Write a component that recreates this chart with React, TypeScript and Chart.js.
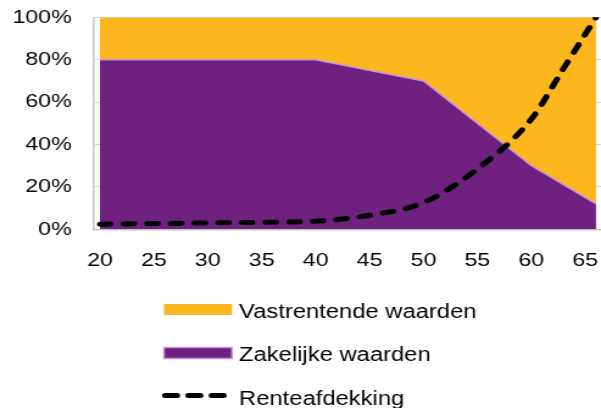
import React, { useEffect, useRef } from 'react';
import { Chart, registerables } from 'chart.js';

Chart.register(...registerables);

// ---- data ----
const areaAges = [20, 40, 50, 60, 66];
const zakelijkeWaarden = [80, 80, 70, 30, 12];
const vastrentendeWaarden = [20, 20, 30, 70, 88];
const renteAges = [20, 25, 30, 35, 40, 45, 50, 55, 60, 63, 66];
const renteafdekking = [2.4, 2.7, 3.0, 3.3, 3.8, 6.6, 12.6, 28.5, 52, 76, 100];
const xTickValues = [20, 25, 30, 35, 40, 45, 50, 55, 60, 65];
const yTickValues = [0, 20, 40, 60, 80, 100];
const legendLabels = ['Vastrentende waarden', 'Zakelijke waarden', 'Renteafdekking'];

// ---- styles ----
const ORANGE = '#FCB61E';
const PURPLE = '#6E217E';
const PURPLE_EDGE = '#C892DE';
const GRID = '#D9D9D9';
const AXIS = '#C6C6C6';
const FONT = "'Liberation Sans', Arial, sans-serif";

const INTERNAL_W = 493;
const CSS_W = 601;
const H = 408;

const legendPlugin = {
  id: 'verticalLegend',
  afterDraw(chart: any) {
    const ctx = chart.ctx as CanvasRenderingContext2D;
    ctx.save();
    const boxX = 134.5;
    const boxW = 55.8;
    const textX = 196.1;
    ctx.font = `19.5px ${FONT}`;
    ctx.textBaseline = 'alphabetic';
    ctx.textAlign = 'left';

    // row 1: orange box
    ctx.fillStyle = ORANGE;
    ctx.fillRect(boxX, 304, boxW, 11);
    ctx.fillStyle = '#000';
    ctx.fillText(legendLabels[0], textX, 317.7);

    // row 2: purple box
    ctx.fillStyle = PURPLE;
    ctx.fillRect(boxX, 347.5, boxW, 11);
    ctx.strokeStyle = PURPLE_EDGE;
    ctx.lineWidth = 1.5;
    ctx.strokeRect(boxX, 347.5, boxW, 11);
    ctx.fillStyle = '#000';
    ctx.fillText(legendLabels[1], textX, 361);

    // row 3: dashed line
    ctx.strokeStyle = '#000';
    ctx.lineWidth = 5;
    ctx.lineCap = 'round';
    ctx.setLineDash([9.8, 9.3]);
    ctx.beginPath();
    ctx.moveTo(135.4, 395.5);
    ctx.lineTo(184.5, 395.5);
    ctx.stroke();
    ctx.setLineDash([]);
    ctx.fillStyle = '#000';
    ctx.fillText(legendLabels[2], textX, 404.5);
    ctx.restore();
  },
};

export default function App() {
  const canvasRef = useRef<HTMLCanvasElement | null>(null);

  useEffect(() => {
    document.body.style.margin = '0';
    document.body.style.overflow = 'hidden';
    const canvas = canvasRef.current;
    if (!canvas) return;

    const chart = new Chart(canvas, {
      type: 'line',
      data: {
        datasets: [
          {
            label: legendLabels[1],
            data: areaAges.map((x, i) => ({ x, y: zakelijkeWaarden[i] })),
            stack: 'mix',
            order: 1,
            fill: 'origin',
            backgroundColor: PURPLE,
            borderColor: PURPLE_EDGE,
            borderWidth: 1.5,
            pointRadius: 0,
            tension: 0,
          },
          {
            label: legendLabels[0],
            data: areaAges.map((x, i) => ({ x, y: vastrentendeWaarden[i] })),
            stack: 'mix',
            order: 2,
            fill: '-1',
            backgroundColor: ORANGE,
            borderColor: ORANGE,
            borderWidth: 0,
            pointRadius: 0,
            tension: 0,
          },
          {
            label: legendLabels[2],
            data: renteAges.map((x, i) => ({ x, y: renteafdekking[i] })),
            stack: 'rente',
            order: 0,
            fill: false,
            borderColor: '#000',
            borderWidth: 5,
            borderDash: [8.7, 10.7],
            borderCapStyle: 'round',
            pointRadius: 0,
            cubicInterpolationMode: 'monotone',
          },
        ],
      },
      options: {
        animation: false,
        responsive: false,
        devicePixelRatio: 1,
        events: [],
        layout: { padding: { top: 17.3, right: 0, left: 0, bottom: 408 - 229.3 - 45 } },
        plugins: {
          legend: { display: false },
          tooltip: { enabled: false },
          title: { display: false },
        },
        scales: {
          x: {
            type: 'linear',
            min: 19.45,
            max: 66.46,
            grid: { display: false, drawTicks: false },
            border: { display: true, color: AXIS, width: 1.5 },
            afterBuildTicks: (axis: any) => {
              axis.ticks = xTickValues.map((v) => ({ value: v }));
            },
            afterFit: (axis: any) => {
              axis.height = 45;
              axis.paddingLeft = 0;
              axis.paddingRight = 0;
              axis.paddingTop = 0;
              axis.paddingBottom = 0;
            },
            ticks: {
              autoSkip: false,
              maxRotation: 0,
              padding: 20,
              color: '#000',
              font: { family: FONT, size: 19 },
            },
          },
          y: {
            stacked: true,
            min: 0,
            max: 100,
            grid: { color: GRID, lineWidth: 1, drawTicks: false },
            border: { display: true, color: AXIS, width: 1.5 },
            afterBuildTicks: (axis: any) => {
              axis.ticks = yTickValues.map((v) => ({ value: v }));
            },
            afterFit: (axis: any) => {
              axis.width = 77.1;
              axis.paddingLeft = 0;
              axis.paddingRight = 0;
              axis.paddingTop = 0;
              axis.paddingBottom = 0;
            },
            ticks: {
              padding: 18.3,
              color: '#000',
              font: { family: FONT, size: 19 },
              callback: (v: any) => `${v}%`,
            },
          },
        },
      },
      plugins: [legendPlugin],
    } as any);

    return () => {
      chart.destroy();
    };
  }, []);

  return (
    <canvas
      ref={canvasRef}
      width={INTERNAL_W}
      height={H}
      style={{ display: 'block', width: `${CSS_W}px`, height: `${H}px` }}
    />
  );
}
